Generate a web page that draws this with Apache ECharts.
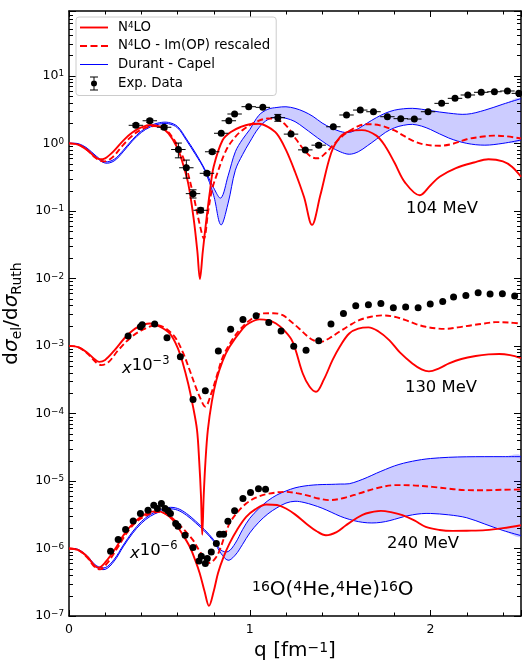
<!DOCTYPE html>
<html><head><meta charset="utf-8">
<script src="https://cdn.jsdelivr.net/npm/echarts@6/dist/echarts.min.js"></script>
<style>html,body{margin:0;padding:0;background:#fff}#c{width:522px;height:660px}</style>
</head><body><div id="c"></div>
<script>
// ---------- data (ratio to Rutherford, before the display scale factor) ----------
const scale104 = 1, scale130 = 1e-3, scale240 = 1e-6;

const n4lo104 = [[0,1.0],[0.05,0.96],[0.1,0.8],[0.14,0.64],[0.17,0.58],[0.2,0.6],[0.25,0.78],[0.3,1.1],[0.35,1.45],[0.4,1.72],[0.45,1.87],[0.5,1.78],[0.55,1.4],[0.6,0.85],[0.63,0.5],[0.66,0.25],[0.69,0.075],[0.71,0.025],[0.724,0.0098],[0.74,0.025],[0.76,0.075],[0.78,0.2],[0.8,0.45],[0.85,1.12],[0.9,1.5],[0.95,1.75],[1.0,1.92],[1.05,1.95],[1.1,1.75],[1.15,1.38],[1.2,0.8],[1.25,0.38],[1.3,0.16],[1.344,0.062],[1.39,0.17],[1.45,0.72],[1.5,1.25],[1.55,1.5],[1.62,1.57],[1.7,1.3],[1.75,0.9],[1.8,0.52],[1.86,0.26],[1.94,0.17],[2.0,0.24],[2.05,0.32],[2.14,0.43],[2.24,0.52],[2.32,0.58],[2.4,0.54],[2.45,0.45],[2.5,0.32]];
const n4loRes104 = [[0,1.0],[0.05,0.96],[0.1,0.8],[0.15,0.6],[0.195,0.54],[0.24,0.62],[0.3,0.95],[0.35,1.3],[0.4,1.6],[0.47,1.8],[0.52,1.7],[0.57,1.25],[0.63,0.63],[0.686,0.18],[0.72,0.068],[0.746,0.039],[0.77,0.1],[0.79,0.2],[0.815,0.33],[0.87,0.8],[0.92,1.25],[0.96,1.57],[1.03,2.05],[1.1,2.33],[1.15,2.25],[1.2,1.85],[1.256,1.15],[1.3,0.8],[1.34,0.63],[1.375,0.6],[1.42,0.72],[1.47,1.0],[1.53,1.4],[1.6,1.8],[1.65,1.92],[1.72,1.85],[1.8,1.55],[1.85,1.3],[1.9,1.1],[1.96,0.97],[2.05,0.92],[2.12,0.98],[2.2,1.15],[2.28,1.25],[2.35,1.3],[2.42,1.27],[2.5,1.18]];
const dc104Q  = [0,0.05,0.1,0.15,0.2,0.25,0.3,0.35,0.4,0.45,0.5,0.55,0.6,0.65,0.7,0.75,0.8,0.84,0.88,0.92,0.96,1.0,1.05,1.1,1.15,1.2,1.25,1.3,1.35,1.4,1.45,1.5,1.55,1.6,1.65,1.7,1.75,1.8,1.85,1.9,1.95,2.0,2.1,2.2,2.3,2.4,2.5];
const dc104Lo = [1.0,0.97,0.82,0.62,0.51,0.55,0.75,1.08,1.45,1.75,1.93,1.95,1.7,1.1,0.68,0.4,0.17,0.062,0.13,0.4,0.68,1.05,1.7,2.25,2.43,2.35,2.1,1.7,1.35,1.08,0.88,0.75,0.69,0.75,0.92,1.15,1.45,1.7,1.85,1.91,1.8,1.6,1.2,1.0,0.94,1.0,1.12];
const dc104Hi = [1.0,0.99,0.85,0.65,0.535,0.58,0.79,1.13,1.52,1.83,2.02,2.04,1.78,1.16,0.72,0.42,0.22,0.155,0.33,0.75,1.15,1.6,2.6,3.2,3.4,3.48,3.3,2.95,2.5,2.0,1.7,1.5,1.45,1.65,2.0,2.4,2.8,3.1,3.25,3.3,3.2,3.05,2.8,2.7,3.1,3.8,4.6];
const exp104Q = [0.37,0.447,0.526,0.605,0.649,0.686,0.728,0.763,0.792,0.842,0.884,0.916,0.994,1.072,1.155,1.228,1.307,1.381,1.462,1.535,1.611,1.684,1.761,1.835,1.91,1.986,2.061,2.135,2.206,2.28,2.353,2.425,2.488];
const exp104V = [1.85,2.16,1.73,0.81,0.435,0.18,0.102,0.36,0.75,1.41,2.16,2.72,3.49,3.41,2.4,1.37,0.8,0.94,1.76,2.63,3.11,2.94,2.48,2.32,2.29,2.94,3.91,4.64,5.2,5.7,5.81,5.96,5.5];
const exp104Err = [0.1,0.12,0.1,0.2,0.13,0.025,0.008,0.02,0.04,0.07,0.1,0.12,0.15,0.15,0.28,0.07,0.04,0.05,0.08,0.12,0.14,0.13,0.11,0.1,0.1,0.13,0.17,0.2,0.22,0.25,0.25,0.26,0.24];
const exp104QErr = 0.04;

const n4lo130 = [[0,1],[0.05,0.96],[0.1,0.8],[0.14,0.64],[0.167,0.58],[0.2,0.62],[0.25,0.85],[0.318,1.4],[0.38,1.9],[0.447,2.15],[0.5,1.95],[0.557,1.53],[0.6,0.95],[0.63,0.55],[0.66,0.27],[0.686,0.126],[0.708,0.057],[0.72,0.02],[0.73,0.006],[0.737,0.0016],[0.745,0.006],[0.755,0.02],[0.768,0.057],[0.79,0.15],[0.815,0.31],[0.85,0.6],[0.888,0.97],[0.962,1.82],[1.0,2.2],[1.053,2.47],[1.1,2.4],[1.145,2.15],[1.19,1.7],[1.237,1.15],[1.293,0.39],[1.33,0.25],[1.366,0.209],[1.41,0.32],[1.458,0.62],[1.5,1.0],[1.55,1.53],[1.6,1.8],[1.656,1.88],[1.71,1.65],[1.771,1.22],[1.83,0.8],[1.899,0.55],[1.95,0.45],[1.991,0.42],[2.05,0.47],[2.102,0.55],[2.17,0.64],[2.249,0.71],[2.32,0.75],[2.38,0.76],[2.44,0.73],[2.5,0.66]];
const n4loRes130 = [[0,1],[0.05,0.96],[0.1,0.78],[0.15,0.57],[0.18,0.52],[0.22,0.58],[0.27,0.85],[0.336,1.29],[0.4,1.7],[0.484,2.03],[0.53,1.85],[0.585,1.36],[0.63,0.8],[0.667,0.44],[0.7,0.25],[0.723,0.176],[0.754,0.126],[0.787,0.198],[0.82,0.38],[0.851,0.69],[0.9,1.2],[0.943,1.71],[1.0,2.4],[1.072,3.03],[1.13,3.05],[1.182,2.86],[1.219,2.4],[1.274,1.8],[1.311,1.45],[1.35,1.22],[1.394,1.15],[1.44,1.3],[1.495,1.62],[1.55,2.0],[1.605,2.41],[1.67,2.7],[1.734,2.83],[1.8,2.7],[1.862,2.41],[1.92,2.1],[1.973,1.92],[2.03,1.82],[2.083,1.79],[2.15,1.88],[2.23,2.03],[2.3,2.15],[2.36,2.25],[2.43,2.22],[2.5,2.15]];
const exp130Q = [0.327,0.395,0.405,0.474,0.542,0.616,0.686,0.754,0.826,0.894,0.962,1.035,1.105,1.173,1.243,1.311,1.381,1.449,1.518,1.586,1.656,1.725,1.794,1.862,1.931,1.998,2.067,2.127,2.195,2.263,2.329,2.397,2.465];
const exp130V = [1.4,1.93,2.05,2.12,1.32,0.69,0.161,0.216,0.84,1.76,2.47,2.79,2.23,1.66,0.99,0.86,1.19,2.12,3.03,3.93,4.06,4.26,3.67,3.76,3.67,4.16,4.56,5.28,5.6,6.13,5.85,5.9,5.47];

const n4lo240 = [[0,1],[0.05,0.95],[0.1,0.76],[0.14,0.56],[0.162,0.52],[0.2,0.62],[0.263,1.06],[0.3,1.55],[0.355,2.35],[0.42,3.2],[0.484,3.57],[0.53,3.3],[0.575,2.63],[0.62,1.75],[0.668,1.06],[0.7,0.65],[0.723,0.43],[0.75,0.23],[0.774,0.141],[0.8,0.23],[0.824,0.43],[0.855,0.75],[0.888,1.19],[0.93,1.9],[0.98,2.94],[1.03,3.8],[1.09,4.49],[1.15,4.4],[1.2,3.91],[1.25,3.2],[1.311,2.35],[1.37,1.8],[1.421,1.57],[1.48,1.75],[1.532,2.21],[1.59,2.8],[1.642,3.3],[1.725,3.61],[1.78,3.45],[1.844,3.11],[1.91,2.6],[1.973,2.09],[2.05,1.88],[2.12,1.82],[2.2,1.83],[2.304,1.87],[2.4,2.0],[2.5,2.21]];
const n4loRes240 = [[0,1],[0.05,0.95],[0.1,0.74],[0.14,0.54],[0.171,0.49],[0.21,0.6],[0.272,1.06],[0.32,1.7],[0.373,2.48],[0.44,3.2],[0.502,3.48],[0.55,3.1],[0.594,2.48],[0.64,1.85],[0.686,1.33],[0.73,0.85],[0.778,0.61],[0.81,0.72],[0.833,0.94],[0.86,1.5],[0.888,2.35],[0.93,3.4],[0.98,4.64],[1.03,5.6],[1.09,6.37],[1.2,6.9],[1.26,6.6],[1.311,6.16],[1.38,5.5],[1.44,5.2],[1.52,5.6],[1.605,6.53],[1.7,7.8],[1.807,8.67],[1.9,8.6],[2.01,8.18],[2.1,7.7],[2.193,7.31],[2.3,7.3],[2.4,7.4],[2.5,7.48]];
const dc240Q  = [0,0.05,0.1,0.15,0.2,0.25,0.3,0.35,0.4,0.45,0.5,0.55,0.6,0.65,0.7,0.75,0.8,0.84,0.88,0.92,0.96,1.0,1.05,1.1,1.15,1.2,1.25,1.3,1.35,1.4,1.45,1.5,1.55,1.6,1.65,1.7,1.75,1.8,1.85,1.9,1.95,2.0,2.1,2.2,2.3,2.4,2.5];
const dc240Lo = [1,0.95,0.75,0.53,0.49,0.65,1.06,1.65,2.35,3.0,3.48,3.85,3.7,3.1,2.4,1.8,1.28,0.85,0.67,0.8,1.15,1.7,2.45,3.25,4.0,4.7,5.0,4.8,4.4,3.95,3.45,3.0,2.7,2.5,2.4,2.4,2.5,2.7,2.95,3.15,3.28,3.3,3.15,2.85,2.3,1.85,1.55];
const dc240Hi = [1,0.97,0.78,0.56,0.52,0.69,1.12,1.75,2.5,3.18,3.68,4.05,3.92,3.3,2.55,1.9,1.35,0.95,0.9,1.2,1.9,2.8,3.9,5.1,6.2,7.1,7.9,8.4,8.7,8.85,8.9,9.0,9.1,10.0,11.3,13.0,14.8,16.7,18.3,19.6,20.7,21.5,22.4,22.8,22.9,22.9,22.9];
const exp240Q = [0.23,0.272,0.313,0.355,0.395,0.437,0.469,0.489,0.511,0.531,0.548,0.561,0.59,0.603,0.642,0.686,0.719,0.732,0.754,0.765,0.787,0.815,0.833,0.855,0.879,0.916,0.962,1.004,1.048,1.087];
const exp240V = [0.91,1.36,1.91,2.56,3.3,3.69,4.38,3.91,4.64,3.91,3.61,3.3,2.35,2.14,1.57,1.03,0.65,0.77,0.6,0.71,0.89,1.19,1.63,1.63,2.54,3.61,5.5,6.76,7.64,7.56];

const xTicks = [0, 1, 2];
const yDecades = [-7, -6, -5, -4, -3, -2, -1, 0, 1];

// ---------- build ----------
const FONT = 'DejaVu Sans';
const RED = '#ff0000', BLUE = '#0000ff';
const lg = (v, s) => Math.log10(v * s);
const curve = (arr, s) => arr.map(p => [p[0], lg(p[1], s)]);

function redSeries(arr, s, dashed) {
  return {
    type: 'line', name: dashed ? 'N4LO - Im(OP) rescaled' : 'N4LO',
    data: curve(arr, s), symbol: 'none', smooth: 0.35, z: 3,
    lineStyle: { color: RED, width: 1.9, type: dashed ? [6, 3.2] : 'solid' },
    itemStyle: { color: RED, borderWidth: 0 }
  };
}
function bandSeries(q, lo, hi, s) {
  const pLo = q.map((x, i) => [x, lg(lo[i], s)]);
  const pHi = q.map((x, i) => [x, lg(hi[i], s)]);
  return {
    type: 'custom', name: 'Durant - Capel', z: 2, clip: true,
    itemStyle: { color: BLUE },
    data: q.map((x, i) => [x, pLo[i][1], pHi[i][1]]),
    encode: { x: 0, y: [1, 2] },
    renderItem(params, api) {
      if (params.dataIndex !== 0) return null;
      const L = pLo.map(p => api.coord(p)), H = pHi.map(p => api.coord(p));
      const sm = 0.35;
      return { type: 'group', children: [
        { type: 'polygon', shape: { points: L.concat(H.slice().reverse()), smooth: sm }, style: { fill: 'rgba(0,0,255,0.2)', stroke: null } },
        { type: 'polyline', shape: { points: L, smooth: sm }, style: { stroke: BLUE, lineWidth: 1, fill: null } },
        { type: 'polyline', shape: { points: H, smooth: sm }, style: { stroke: BLUE, lineWidth: 1, fill: null } }
      ] };
    }
  };
}
function expSeries(q, v, s) {
  return { type: 'scatter', name: 'Exp. Data', data: q.map((x, i) => [x, lg(v[i], s)]),
    symbol: 'circle', symbolSize: 7, itemStyle: { color: '#000', opacity: 1 }, z: 6 };
}
function errSeries(q, v, err, qerr, s) {
  return {
    type: 'custom', name: 'err', z: 5,
    data: q.map((x, i) => [x, lg(v[i], s), lg(Math.max(v[i] - err[i], 1e-9), s), lg(v[i] + err[i], s), qerr]),
    renderItem(params, api) {
      const x = api.value(0), y = api.value(1), dq = api.value(4);
      const c = api.coord([x, y]);
      const lo = api.coord([x, api.value(2)]), hi = api.coord([x, api.value(3)]);
      const l = api.coord([x - dq, y]), r = api.coord([x + dq, y]);
      const st = { stroke: '#000', lineWidth: 1 };
      const ch = [
        { type: 'line', shape: { x1: l[0], y1: c[1], x2: r[0], y2: c[1] }, style: st },
        { type: 'line', shape: { x1: c[0], y1: lo[1], x2: c[0], y2: hi[1] }, style: st }
      ];
      if (Math.abs(lo[1] - hi[1]) > 3) {
        ch.push({ type: 'line', shape: { x1: c[0] - 3.5, y1: lo[1], x2: c[0] + 3.5, y2: lo[1] }, style: st });
        ch.push({ type: 'line', shape: { x1: c[0] - 3.5, y1: hi[1], x2: c[0] + 3.5, y2: hi[1] }, style: st });
      }
      return { type: 'group', children: ch };
    }
  };
}

// minor tick positions (axis decoration)
const xMinor = [];
for (let k = 1; k <= 12; k++) { const v = Math.round(k * 2) / 10; if (Math.abs(v - Math.round(v)) > 1e-9) xMinor.push(v); }
const yMinor = [];
yDecades.forEach(n => { for (let k = 2; k <= 9; k++) { const v = n + Math.log10(k); if (v < 1.96) yMinor.push(v); } });
const minorSeries = {
  type: 'custom', name: 'minor', z: 7, silent: true,
  data: xMinor.map(v => [v, -7, 0]).concat(yMinor.map(v => [0, v, 1])),
  renderItem(params, api) {
    const cs = params.coordSys, st = { stroke: '#000', lineWidth: 1 };
    if (api.value(2) === 0) {
      const x = Math.round(api.coord([api.value(0), -7])[0]) + 0.5;
      return { type: 'group', children: [
        { type: 'line', shape: { x1: x, y1: cs.y + cs.height, x2: x, y2: cs.y + cs.height - 3.5 }, style: st },
        { type: 'line', shape: { x1: x, y1: cs.y, x2: x, y2: cs.y + 3.5 }, style: st }] };
    }
    const y = Math.round(api.coord([0, api.value(1)])[1]) + 0.5;
    return { type: 'group', children: [
      { type: 'line', shape: { x1: cs.x, y1: y, x2: cs.x + 4, y2: y }, style: st },
      { type: 'line', shape: { x1: cs.x + cs.width, y1: y, x2: cs.x + cs.width - 4, y2: y }, style: st }] };
  }
};

const supS = { fontSize: 8.8, verticalAlign: 'top', fontFamily: FONT, color: '#000' };
const axLine = { show: true, onZero: false, lineStyle: { color: '#000', width: 1.5 } };
const tickSt = { color: '#000', width: 1 };
const yFmt = v => (yDecades.indexOf(v) >= 0) ? '10{s|' + (v < 0 ? '\u2212' + (-v) : v) + '}' : '';

const series = [
  bandSeries(dc104Q, dc104Lo, dc104Hi, scale104),
  bandSeries(dc240Q, dc240Lo, dc240Hi, scale240),
  redSeries(n4lo104, scale104, false), redSeries(n4loRes104, scale104, true),
  redSeries(n4lo130, scale130, false), redSeries(n4loRes130, scale130, true),
  redSeries(n4lo240, scale240, false), redSeries(n4loRes240, scale240, true),
  errSeries(exp104Q, exp104V, exp104Err, exp104QErr, scale104),
  expSeries(exp104Q, exp104V, scale104), expSeries(exp130Q, exp130V, scale130), expSeries(exp240Q, exp240V, scale240),
  minorSeries
];

const chart = echarts.init(document.getElementById('c'));
chart.setOption({
  animation: false,
  backgroundColor: '#fff',
  textStyle: { fontFamily: FONT },
  grid: { left: 69, right: 1, top: 11, bottom: 44, containLabel: false, outerBoundsMode: 'none' },
  legend: {
    orient: 'vertical', left: 76, top: 17, itemWidth: 28, itemHeight: 14, itemGap: 5.5,
    padding: [4, 6, 5, 4], backgroundColor: '#fff', borderColor: '#cccccc', borderWidth: 1, borderRadius: 3,
    selectedMode: false,
    data: [
      { name: 'N4LO', icon: 'path://M0,0h28v1.9h-28z' },
      { name: 'N4LO - Im(OP) rescaled', icon: 'path://M0,0h6.7v1.9h-6.7z M10,0h6.7v1.9h-6.7z M20,0h6.7v1.9h-6.7z' },
      { name: 'Durant - Capel', icon: 'path://M0,0h28v1h-28z' },
      { name: 'Exp. Data', icon: 'path://M0,0h8v1h-8z M3.5,0h1v14h-1z M0,13h8v1h-8z M1,7a3,3 0 1,1 6,0a3,3 0 1,1 -6,0z' }],
    formatter: n => n.replace('N4LO', 'N{s|4}LO'),
    textStyle: { fontSize: 13.3, color: '#000', fontFamily: FONT, padding: [0, 0, 0, 5], rich: { s: supS } }
  },
  xAxis: [
    { type: 'value', min: 0, max: 2.5, interval: 1, position: 'bottom',
      axisLine: axLine, axisTick: { inside: true, length: 6, lineStyle: tickSt }, splitLine: { show: false },
      axisLabel: { fontSize: 12.5, color: '#000', margin: 7, fontFamily: FONT,
        formatter: v => xTicks.indexOf(v) >= 0 ? String(v) : '' },
      name: 'q [fm{s|\u22121}]', nameLocation: 'middle', nameGap: 20,
      nameTextStyle: { fontSize: 20, color: '#000', fontFamily: FONT, rich: { s: { fontSize: 14, verticalAlign: 'top', fontFamily: FONT, color: '#000' } } } },
    { type: 'value', min: 0, max: 2.5, interval: 1, position: 'top',
      axisLine: axLine, axisTick: { inside: true, length: 6, lineStyle: tickSt }, splitLine: { show: false }, axisLabel: { show: false } }
  ],
  yAxis: [
    { type: 'value', min: -7, max: 1.96, interval: 1, position: 'left',
      axisLine: axLine, axisTick: { inside: true, length: 7, lineStyle: tickSt }, splitLine: { show: false },
      axisLabel: { fontSize: 12.5, color: '#000', margin: 5, fontFamily: FONT, formatter: yFmt, rich: { s: supS } },
      name: 'd{g|\u03c3}{b|el}/d{g|\u03c3}{b|Ruth}', nameLocation: 'middle', nameRotate: 90, nameGap: 40,
      nameTextStyle: { fontSize: 20, color: '#000', fontFamily: FONT, lineHeight: 24,
        rich: { g: { fontSize: 20, fontStyle: 'italic', fontFamily: FONT, color: '#000', lineHeight: 24 },
                b: { fontSize: 14, verticalAlign: 'bottom', fontFamily: FONT, color: '#000', lineHeight: 14 } } } },
    { type: 'value', min: -7, max: 1.96, interval: 1, position: 'right',
      axisLine: axLine, axisTick: { inside: true, length: 7, lineStyle: tickSt }, splitLine: { show: false }, axisLabel: { show: false } }
  ],
  graphic: [
    { type: 'text', x: 406, y: 209, style: { text: '104 MeV', font: '16.4px "DejaVu Sans"', fill: '#000', textVerticalAlign: 'middle' } },
    { type: 'text', x: 405, y: 388, style: { text: '130 MeV', font: '16.4px "DejaVu Sans"', fill: '#000', textVerticalAlign: 'middle' } },
    { type: 'text', x: 387, y: 544, style: { text: '240 MeV', font: '16.4px "DejaVu Sans"', fill: '#000', textVerticalAlign: 'middle' } },
    { type: 'text', x: 122, y: 366, style: { text: '{i|x}10{s|\u22123}', font: '16.4px "DejaVu Sans"', fill: '#000', textVerticalAlign: 'middle',
        rich: { i: { fontStyle: 'italic', fontSize: 16.4, fontFamily: FONT, lineHeight: 22, verticalAlign: 'bottom' }, s: { fontSize: 11.5, fontFamily: FONT, verticalAlign: 'top' } } } },
    { type: 'text', x: 130, y: 551, style: { text: '{i|x}10{s|\u22126}', font: '16.4px "DejaVu Sans"', fill: '#000', textVerticalAlign: 'middle',
        rich: { i: { fontStyle: 'italic', fontSize: 16.4, fontFamily: FONT, lineHeight: 22, verticalAlign: 'bottom' }, s: { fontSize: 11.5, fontFamily: FONT, verticalAlign: 'top' } } } },
    { type: 'text', x: 252, y: 590, style: { text: '{s|16}O({s|4}He,{s|4}He){s|16}O', font: '20px "DejaVu Sans"', fill: '#000', textVerticalAlign: 'middle',
        rich: { s: { fontSize: 14, fontFamily: FONT, verticalAlign: 'top' } } } }
  ],
  series: series
});
</script></body></html>
